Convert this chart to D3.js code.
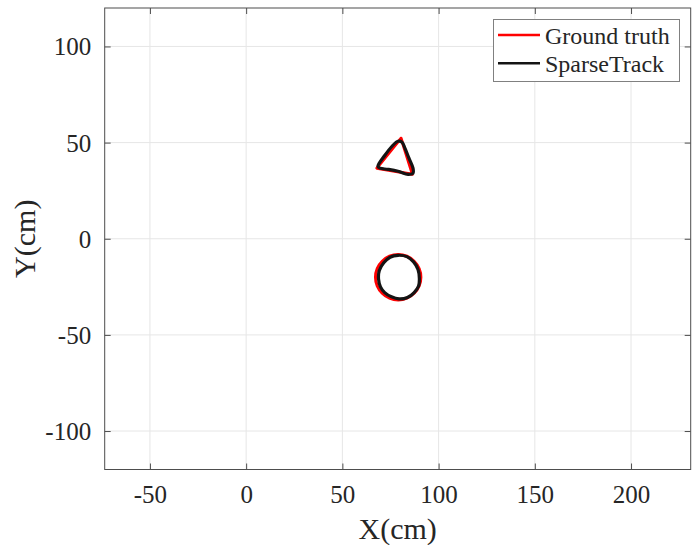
<!DOCTYPE html>
<html>
<head>
<meta charset="utf-8">
<script src="https://cdn.jsdelivr.net/npm/d3@7"></script>
<style>
  html, body { margin: 0; padding: 0; background: #fff; }
  svg { display: block; }
  text { font-family: "Liberation Serif", "Times New Roman", serif; fill: #262626; }
</style>
</head>
<body>
<svg id="chart" width="697" height="545"></svg>
<script>
// Tick values for both axes
const xTicks = [-50, 0, 50, 100, 150, 200];
const yTicks = [-100, -50, 0, 50, 100];

// Series names and colours (legend order)
const seriesNames = ["Ground truth", "SparseTrack"];
const seriesColors = ["#ff0000", "#141414"];

// Ground-truth trajectories (cm)
const gtTriangle = [[80.5, 52.3], [67.9, 36.7], [86.4, 33.5]];
const gtCircle = [
  [90.8, -20.0], [89.9, -15.5], [87.3, -11.7], [83.5, -9.1],
  [79.0, -8.2], [74.5, -9.1], [70.7, -11.7], [68.1, -15.5],
  [67.2, -20.0], [68.1, -24.5], [70.7, -28.3], [74.5, -30.9],
  [79.0, -31.8], [83.5, -30.9], [87.3, -28.3], [89.9, -24.5]
];

// Tracked trajectories (cm)
const trkTriangle = [
  [68.5, 37.7], [72.1, 43.4], [75.8, 48.1], [78.9, 50.7], [81.0, 50.2],
  [82.5, 47.1], [84.6, 41.9], [86.7, 36.7], [86.7, 34.1], [84.1, 33.5],
  [78.9, 35.1], [73.7, 36.1], [69.5, 36.7]
];
const trkCircle = [
  [90.0, -20.5], [89.3, -16.0], [87.0, -12.0], [83.5, -9.3],
  [79.0, -8.6], [74.8, -9.6], [71.5, -12.5], [69.2, -16.5],
  [68.8, -21.0], [69.8, -25.0], [72.0, -28.0], [75.5, -30.2],
  [79.5, -31.3], [83.8, -30.6], [87.3, -28.0], [89.6, -24.6]
];

const plot = { left: 104.7, right: 690.7, top: 8, bottom: 469.5 };
const x = d3.scaleLinear().domain([-73.5, 231.0]).range([plot.left, plot.right]);
const y = d3.scaleLinear().domain([-120, 120]).range([plot.bottom, plot.top]);

const svg = d3.select("#chart");
const fmt = d => String(d); // plain hyphen-minus labels

// Grid
const grid = svg.append("g").attr("stroke", "#e6e6e6").attr("stroke-width", 1);
grid.selectAll(".gx").data(xTicks).join("line")
  .attr("x1", d => x(d)).attr("x2", d => x(d))
  .attr("y1", plot.top).attr("y2", plot.bottom);
grid.selectAll(".gy").data(yTicks).join("line")
  .attr("y1", d => y(d)).attr("y2", d => y(d))
  .attr("x1", plot.left).attr("x2", plot.right);

// Axes: ticks pointing inward on all four sides
const tickLen = 6;
const axisColor = "#4d4d4d";
const axB = d3.axisBottom(x).tickValues(xTicks).tickFormat(fmt).tickSizeInner(-tickLen).tickSizeOuter(0).tickPadding(14);
const axT = d3.axisTop(x).tickValues(xTicks).tickSizeInner(-tickLen).tickSizeOuter(0).tickFormat("");
const axL = d3.axisLeft(y).tickValues(yTicks).tickFormat(fmt).tickSizeInner(-tickLen).tickSizeOuter(0).tickPadding(12);
const axR = d3.axisRight(y).tickValues(yTicks).tickSizeInner(-tickLen).tickSizeOuter(0).tickFormat("");

function style(g) {
  g.select(".domain").remove();
  g.selectAll(".tick line").attr("stroke", axisColor).attr("stroke-width", 1);
  g.selectAll(".tick text").attr("font-size", 25).attr("fill", "#404040")
    .style("font-family", '"Liberation Serif", serif');
}

svg.append("g").attr("transform", `translate(0,${plot.bottom})`).call(axB).call(style)
  .selectAll(".tick text").attr("dy", null).attr("y", 33);
svg.append("g").attr("transform", `translate(0,${plot.top})`).call(axT).call(style);
svg.append("g").attr("transform", `translate(${plot.left},0)`).call(axL).call(style)
  .selectAll(".tick text").attr("dy", "0.34em").attr("x", -13.5);
svg.append("g").attr("transform", `translate(${plot.right},0)`).call(axR).call(style);

// Box
svg.append("rect")
  .attr("x", plot.left).attr("y", plot.top)
  .attr("width", plot.right - plot.left).attr("height", plot.bottom - plot.top)
  .attr("fill", "none").attr("stroke", axisColor).attr("stroke-width", 1);

// Trajectories
const lineLinear = d3.line().x(d => x(d[0])).y(d => y(d[1])).curve(d3.curveLinearClosed);
const lineSmooth = d3.line().x(d => x(d[0])).y(d => y(d[1])).curve(d3.curveCatmullRomClosed);

const paths = svg.append("g").attr("fill", "none").attr("stroke-linejoin", "round");
paths.append("path").attr("d", lineLinear(gtTriangle))
  .attr("stroke", seriesColors[0]).attr("stroke-width", 3);
paths.append("path").attr("d", lineSmooth(gtCircle))
  .attr("stroke", seriesColors[0]).attr("stroke-width", 3);
paths.append("path").attr("d", lineSmooth(trkTriangle))
  .attr("stroke", seriesColors[1]).attr("stroke-width", 3.2);
paths.append("path").attr("d", lineSmooth(trkCircle))
  .attr("stroke", seriesColors[1]).attr("stroke-width", 3.2);

// Axis labels
svg.append("text").attr("x", (plot.left + plot.right) / 2).attr("y", 539)
  .attr("text-anchor", "middle").attr("font-size", 30).attr("fill", "#404040").text("X(cm)");
svg.append("text").attr("transform", `translate(35,${(plot.top + plot.bottom) / 2}) rotate(-90)`)
  .attr("text-anchor", "middle").attr("font-size", 30).attr("fill", "#404040").text("Y(cm)");

// Legend
const legend = svg.append("g");
legend.append("rect").attr("x", 493.5).attr("y", 19.5).attr("width", 186).attr("height", 62)
  .attr("fill", "#fff").attr("stroke", "#808080").attr("stroke-width", 1);
seriesNames.forEach((name, i) => {
  const ly = 35 + i * 28.3;
  legend.append("line").attr("x1", 498).attr("x2", 540).attr("y1", ly).attr("y2", ly)
    .attr("stroke", seriesColors[i]).attr("stroke-width", 2.5);
  legend.append("text").attr("x", 545).attr("y", ly + 9).attr("font-size", 24)
    .attr("fill", "#1a1a1a").text(name);
});
</script>
</body>
</html>
